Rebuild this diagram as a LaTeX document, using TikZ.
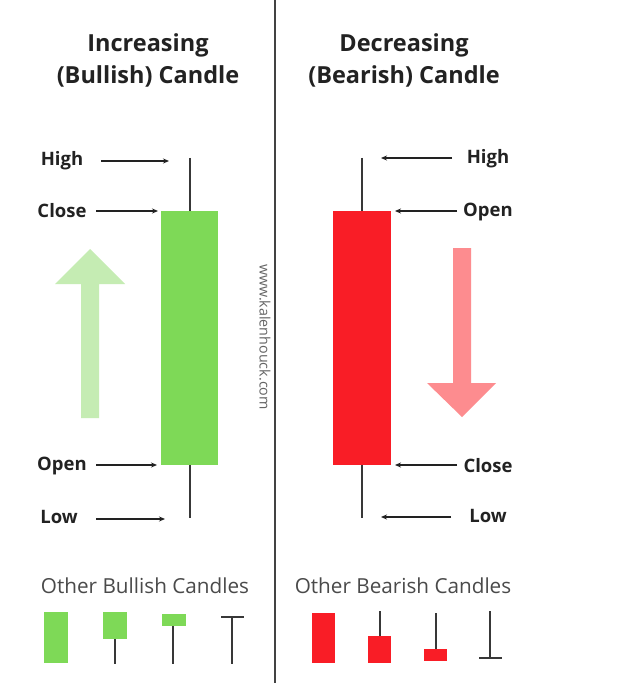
\documentclass[tikz,border=0pt]{standalone}
\usepackage{fontspec}
\setmainfont{Open Sans}
\usetikzlibrary{arrows.meta}
\definecolor{bull}{HTML}{7ED957}
\definecolor{bear}{HTML}{F91D26}
\definecolor{bullarrow}{HTML}{C5ECB3}
\definecolor{beararrow}{HTML}{FD8C8F}
\definecolor{ink}{HTML}{222222}
\definecolor{soft}{HTML}{4A4A4A}
\begin{document}
\begin{tikzpicture}[x=1pt,y=-1pt,
  title/.style={font=\bfseries\fontsize{23.5}{32}\selectfont, align=center, text=ink, inner sep=0},
  lbl/.style={font=\bfseries\fontsize{18.5}{21}\selectfont, text=ink, inner sep=0},
  sub/.style={font=\fontsize{20.7}{24}\selectfont, text=soft, inner sep=0},
  ptr/.style={-{Stealth[length=6pt,width=5pt]}, line width=1.1pt, draw=ink},
  wick/.style={line width=1.4pt, draw=ink!90},
  gbox/.style={fill=bull, draw=none, inner sep=0, anchor=north west},
  rbox/.style={fill=bear, draw=none, inner sep=0, anchor=north west}]
\useasboundingbox (0,0) rectangle (640,687);
\fill[white] (0,0) rectangle (640,687);

% divider
\coordinate (dtop) at (275,0);
\coordinate (dbot) at (275,683);
\draw[line width=1.2pt, ink!85] (dtop) -- (dbot);

% titles
\node[title] (t1) at (148,60) {Increasing\\(Bullish) Candle};
\node[title] (t2) at (404,60) {Decreasing\\(Bearish) Candle};

% watermark
\node[rotate=-90, font=\fontsize{14.3}{16}\selectfont, text=soft!85, inner sep=0] (wm) at (265,337) {www.kalenhouck.com};

% big arrows
\fill[bullarrow] (90,249) -- (125,284) -- (99,284) -- (99,418) -- (81,418) -- (81,284) -- (55,284) -- cycle;
\fill[beararrow] (462,417) -- (496,383) -- (471,383) -- (471,248) -- (453,248) -- (453,383) -- (427,383) -- cycle;

% bullish candle
\node[gbox, minimum width=57, minimum height=254] (gbody) at (161,211) {};
\coordinate (gtop) at (190,158);
\coordinate (gbot) at (190,518);
\draw[wick] (gtop) -- (gbody.north -| gtop);
\draw[wick] (gbody.south -| gbot) -- (gbot);

% bearish candle
\node[rbox, minimum width=58, minimum height=254] (rbody) at (333,211) {};
\coordinate (rtop) at (362,158);
\coordinate (rbot) at (362,518);
\draw[wick] (rtop) -- (rbody.north -| rtop);
\draw[wick] (rbody.south -| rbot) -- (rbot);

% left labels
\node[lbl] (lhigh) at (62,161) {High};
\node[lbl] (lclose) at (62,211) {Close};
\node[lbl] (lopen) at (62,466) {Open};
\node[lbl] (llow) at (59,517) {Low};
\coordinate (a1s) at (101,161); \coordinate (a1e) at (169,161);
\coordinate (a2s) at (96,211);  \coordinate (a2e) at (158,211);
\coordinate (a3s) at (96,465);  \coordinate (a3e) at (157,465);
\coordinate (a4s) at (96,519);  \coordinate (a4e) at (165,519);
\draw[ptr] (a1s) -- (a1e);
\draw[ptr] (a2s) -- (a2e);
\draw[ptr] (a3s) -- (a3e);
\draw[ptr] (a4s) -- (a4e);

% right labels
\node[lbl] (rhigh) at (488,159) {High};
\node[lbl] (ropen) at (488,212) {Open};
\node[lbl] (rclose) at (488,466) {Close};
\node[lbl] (rlow) at (488,516) {Low};
\coordinate (b1s) at (452,158); \coordinate (b1e) at (381,158);
\coordinate (b2s) at (457,211); \coordinate (b2e) at (395,211);
\coordinate (b3s) at (457,465); \coordinate (b3e) at (395,465);
\coordinate (b4s) at (451,517); \coordinate (b4e) at (381,517);
\draw[ptr] (b1s) -- (b1e);
\draw[ptr] (b2s) -- (b2e);
\draw[ptr] (b3s) -- (b3e);
\draw[ptr] (b4s) -- (b4e);

% other candles
\node[sub] (obull) at (145,586) {Other Bullish Candles};
\node[sub] (obear) at (403,586) {Other Bearish Candles};

\fill[bull] (44,612) rectangle (68,663);
\fill[bull] (103,612) rectangle (127,639);
\draw[wick] (115,639) -- (115,664);
\fill[bull] (162,614) rectangle (186,626);
\draw[wick] (173,626) -- (173,664);
\draw[wick] (221,617) -- (244,617);
\draw[wick] (232,617) -- (232,664);

\fill[bear] (312,613) rectangle (335,663);
\fill[bear] (368,636) rectangle (391,663);
\draw[wick] (380,611) -- (380,636);
\fill[bear] (424,649) rectangle (447,661);
\draw[wick] (436,613) -- (436,649);
\draw[wick] (479,658) -- (502,658);
\draw[wick] (490,611) -- (490,658);
\end{tikzpicture}
\end{document}
